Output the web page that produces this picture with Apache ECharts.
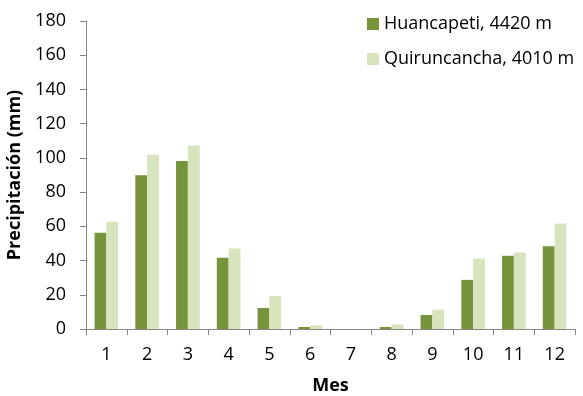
<!DOCTYPE html>
<html><head><meta charset="utf-8">
<script src="https://cdn.jsdelivr.net/npm/echarts@6/dist/echarts.min.js"></script>
<style>html,body{margin:0;padding:0;background:#fff}#c{width:583px;height:396px}</style>
</head><body><div id="c"></div>
<script>
const months = ['1','2','3','4','5','6','7','8','9','10','11','12'];
const huancapeti = [56.2, 89.9, 98.2, 41.6, 12.3, 1.2, 0, 1.2, 8.2, 28.7, 42.8, 48.3];
const quiruncancha = [62.7, 101.8, 107.2, 47.1, 19.2, 2.2, 0, 2.7, 11.3, 41.2, 44.7, 61.7];
const seriesNames = ['Huancapeti, 4420 m', 'Quiruncancha, 4010 m'];
const FONT = 'Open Sans';
const chart = echarts.init(document.getElementById('c'));
chart.setOption({
  animation: false,
  textStyle: {fontFamily: FONT},
  grid: {left: 86, right: 8, top: 21, bottom: 67, containLabel: false, outerBoundsMode: 'none'},
  legend: {
    orient: 'vertical', left: 362, top: 10, itemGap: 17,
    itemWidth: 12, itemHeight: 12, icon: 'rect',
    textStyle: {fontSize: 18, color: '#000', fontFamily: FONT},
    data: seriesNames
  },
  xAxis: {
    type: 'category', data: months,
    name: 'Mes', nameLocation: 'middle', nameGap: 48,
    nameTextStyle: {fontSize: 18, fontWeight: 'bold', color: '#000'},
    axisLine: {lineStyle: {color: '#868686'}},
    axisTick: {show: true, length: 6, lineStyle: {color: '#868686'}},
    axisLabel: {fontSize: 18, color: '#000', margin: 17}
  },
  yAxis: {
    type: 'value', min: 0, max: 180, interval: 20,
    name: 'Precipitación (mm)', nameLocation: 'middle', nameGap: 59,
    nameTextStyle: {fontSize: 18, fontWeight: 'bold', color: '#000'},
    axisLine: {show: true, lineStyle: {color: '#868686'}},
    axisTick: {show: true, length: 6, lineStyle: {color: '#868686'}},
    splitLine: {show: false},
    axisLabel: {fontSize: 18, color: '#000', margin: 20}
  },
  series: [
    {name: seriesNames[0], type: 'bar', data: huancapeti, barGap: '0%', barCategoryGap: '42%', itemStyle: {color: '#77933C'}},
    {name: seriesNames[1], type: 'bar', data: quiruncancha, itemStyle: {color: '#D7E4BD'}}
  ]
});
</script></body></html>
